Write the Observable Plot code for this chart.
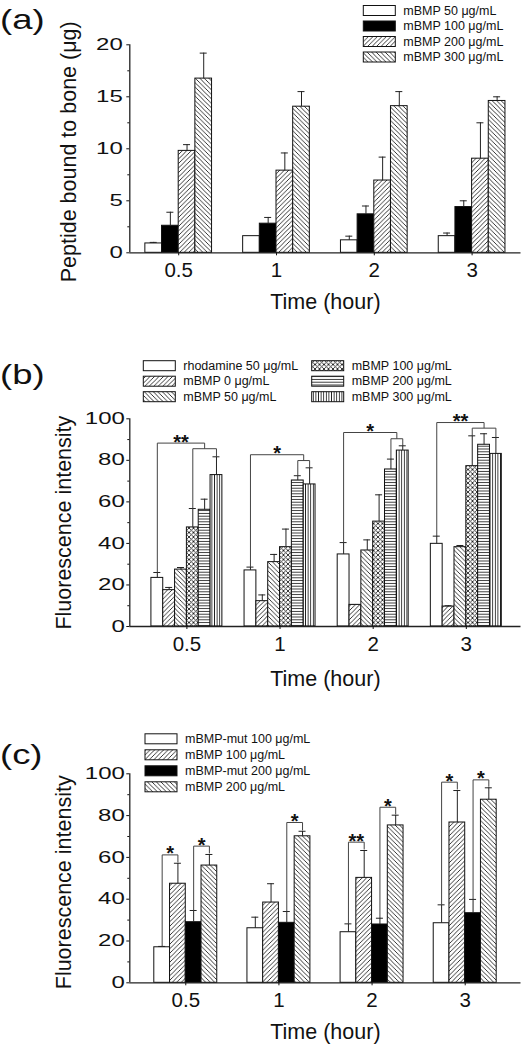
<!DOCTYPE html>
<html><head><meta charset="utf-8">
<script src="https://cdn.jsdelivr.net/npm/d3@7"></script>
<script src="https://cdn.jsdelivr.net/npm/@observablehq/plot@0.6"></script>
<style>
body{margin:0;background:#fff;}
#wrap{position:relative;width:522px;height:1050px;overflow:hidden;background:#fff;}
#wrap > svg{position:absolute;left:0;}
</style></head><body><div id="wrap"></div>
<script>
// ---------- data ----------
const times = ["0.5", "1", "2", "3"];

// (a)
const seriesA = ["mBMP 50 μg/mL", "mBMP 100 μg/mL", "mBMP 200 μg/mL", "mBMP 300 μg/mL"];
const meanA = [
  [0.9, 1.6, 1.2, 1.6],
  [2.6, 2.8, 3.7, 4.4],
  [9.8, 7.9, 6.95, 9.05],
  [16.75, 14.05, 14.1, 14.6]
];
const errA = [
  [0.1, 0, 0.4, 0.3],
  [1.3, 0.6, 0.8, 0.6],
  [0.6, 1.7, 2.25, 3.45],
  [2.45, 1.45, 1.4, 0.4]
];
const ticksA = [0, 5, 10, 15, 20];
const minorA = [2.5, 7.5, 12.5, 17.5];

// (b)
const seriesB = ["rhodamine 50 μg/mL", "mBMP 0 μg/mL", "mBMP 50 μg/mL", "mBMP 100 μg/mL", "mBMP 200 μg/mL", "mBMP 300 μg/mL"];
const meanB = [
  [23.4, 27.0, 34.7, 39.8],
  [17.5, 12.2, 10.4, 9.6],
  [27.4, 31.0, 36.6, 38.2],
  [47.7, 38.2, 50.5, 77.2],
  [56.2, 70.3, 75.6, 87.5],
  [72.9, 68.4, 84.7, 83.1]
];
const errB = [
  [2.6, 1.6, 5.7, 3.7],
  [1.3, 3.0, 0.2, 0.4],
  [1.0, 3.7, 5.1, 0.8],
  [9.1, 8.7, 12.9, 14.6],
  [5.1, 2.3, 5.0, 5.3],
  [8.8, 8.0, 2.3, 7.9]
];
const bracketsB = [
  {time: "0.5", left: "rhodamine 50 μg/mL", from: "mBMP 100 μg/mL", to: "mBMP 300 μg/mL", outer: 88.3, inner: 85.6, mark: "**"},
  {time: "1", left: "rhodamine 50 μg/mL", from: "mBMP 200 μg/mL", to: "mBMP 300 μg/mL", outer: 82.7, inner: 79.9, mark: "*"},
  {time: "2", left: "rhodamine 50 μg/mL", from: "mBMP 200 μg/mL", to: "mBMP 300 μg/mL", outer: 93.4, inner: 90.4, mark: "*"},
  {time: "3", left: "rhodamine 50 μg/mL", from: "mBMP 100 μg/mL", to: "mBMP 300 μg/mL", outer: 98.2, inner: 95.5, mark: "**"}
];
const ticksBC = [0, 20, 40, 60, 80, 100];
const minorBC = [10, 30, 50, 70, 90];

// (c)
const seriesC = ["mBMP-mut 100 μg/mL", "mBMP 100 μg/mL", "mBMP-mut 200 μg/mL", "mBMP 200 μg/mL"];
const meanC = [
  [17.0, 26.1, 24.2, 28.5],
  [47.4, 38.4, 50.2, 76.7],
  [29.0, 28.7, 27.9, 33.3],
  [56.1, 70.1, 75.3, 87.6]
];
const errC = [
  [0.4, 5.3, 4.0, 8.8],
  [9.8, 9.0, 13.1, 15.3],
  [5.6, 5.4, 3.0, 6.6],
  [5.3, 2.4, 4.9, 5.7]
];
const bracketsC = [
  {time: "0.5", from: "mBMP-mut 100 μg/mL", to: "mBMP 100 μg/mL", top: 61.2, mark: "*"},
  {time: "0.5", from: "mBMP-mut 200 μg/mL", to: "mBMP 200 μg/mL", top: 65.4, mark: "*"},
  {time: "1", from: "mBMP-mut 200 μg/mL", to: "mBMP 200 μg/mL", top: 76.7, mark: "*"},
  {time: "2", from: "mBMP-mut 100 μg/mL", to: "mBMP 100 μg/mL", top: 67.3, mark: "**"},
  {time: "2", from: "mBMP-mut 200 μg/mL", to: "mBMP 200 μg/mL", top: 84.0, mark: "*"},
  {time: "3", from: "mBMP-mut 100 μg/mL", to: "mBMP 100 μg/mL", top: 96.0, mark: "*"},
  {time: "3", from: "mBMP-mut 200 μg/mL", to: "mBMP 200 μg/mL", top: 97.1, mark: "*"}
];

// ---------- styles ----------
const FONT = '"Liberation Sans", Arial, Helvetica, sans-serif';
const fillsA = ["white", "black", "url(#pF)", "url(#pB)"];
const fillsB = ["white", "url(#pF)", "url(#pB)", "url(#pX)", "url(#pH)", "url(#pV)"];
const fillsC = ["white", "url(#pF)", "black", "url(#pB)"];

const wrap = document.getElementById("wrap");

function stretchX(el, s) {
  const t = el.getAttribute("transform") || "";
  const x = parseFloat(el.getAttribute("x")) || 0, y = parseFloat(el.getAttribute("y")) || 0;
  el.setAttribute("transform", `${t} translate(${x},${y}) scale(${s},1) translate(${-x},${-y})`);
}

function panel(cfg) {
  const W = 522, mL = 129.3, mR = 1.5;
  const n = cfg.series.length;
  const rows = [];
  cfg.series.forEach((s, si) => times.forEach((t, ti) => {
    const v = cfg.mean[si][ti], e = cfg.err[si][ti];
    rows.push({series: s, time: t, value: v, err: e, top: v + e, pos: ti + (si - (n - 1) / 2) * cfg.barW});
  }));
  const ppu = (W - mL - mR) / (cfg.xDomain[1] - cfg.xDomain[0]);
  const cap = 3.5 / ppu;
  const find = (t, s) => rows.find(r => r.time === t && r.series === s);
  const segs = [], stars = [];
  (cfg.groupBrackets || []).forEach(b => {
    const L = find(b.time, b.left), A = find(b.time, b.from), B = find(b.time, b.to);
    const mid = (A.pos + B.pos) / 2;
    segs.push({x1: L.pos, y1: L.top, x2: L.pos, y2: b.outer});
    segs.push({x1: L.pos, y1: b.outer, x2: mid, y2: b.outer});
    segs.push({x1: mid, y1: b.outer, x2: mid, y2: b.inner});
    segs.push({x1: A.pos, y1: b.inner, x2: B.pos, y2: b.inner});
    segs.push({x1: A.pos, y1: b.inner, x2: A.pos, y2: A.top});
    segs.push({x1: B.pos, y1: b.inner, x2: B.pos, y2: B.top});
    stars.push({x: (L.pos + mid) / 2, y: b.outer, mark: b.mark});
  });
  (cfg.pairBrackets || []).forEach(b => {
    const A = find(b.time, b.from), B = find(b.time, b.to);
    segs.push({x1: A.pos, y1: A.top, x2: A.pos, y2: b.top});
    segs.push({x1: A.pos, y1: b.top, x2: B.pos, y2: b.top});
    segs.push({x1: B.pos, y1: b.top, x2: B.pos, y2: B.top + 0.5});
    stars.push({x: (A.pos + B.pos) / 2, y: b.top, mark: b.mark});
  });
  const withErr = rows.filter(d => d.err > 0);
  const chart = Plot.plot({
    width: W, height: cfg.height,
    marginLeft: mL, marginRight: mR, marginTop: cfg.mT, marginBottom: cfg.mB,
    style: {fontFamily: FONT, color: "#111", background: "transparent", overflow: "visible"},
    x: {domain: cfg.xDomain, axis: null},
    y: {domain: cfg.yDomain, axis: null},
    color: {domain: cfg.series, range: cfg.fills},
    marks: [
      Plot.rectY(rows, {x1: d => d.pos - cfg.barW / 2, x2: d => d.pos + cfg.barW / 2, y1: 0, y2: "value", fill: "series", stroke: "#111", strokeWidth: 1}),
      Plot.ruleX(withErr, {x: "pos", y1: "value", y2: "top", stroke: "#222", strokeWidth: 1}),
      Plot.ruleY(withErr, {y: "top", x1: d => d.pos - cap, x2: d => d.pos + cap, stroke: "#222", strokeWidth: 1}),
      Plot.link(segs, {x1: "x1", y1: "y1", x2: "x2", y2: "y2", stroke: "#444", strokeWidth: 1}),
      Plot.text(stars, {x: "x", y: "y", text: "mark", fontSize: 20, fontWeight: "bold", lineAnchor: "middle", dy: -1, fill: "#111"}),
      Plot.ruleX([cfg.xDomain[0]], {stroke: "#222", strokeWidth: 1.3}),
      Plot.ruleY([0], {stroke: "#222", strokeWidth: 1.3}),
      Plot.axisY({ticks: cfg.ticks, tickSize: 3, tickPadding: cfg.yPad, fontSize: 16, label: null}),
      Plot.axisY({ticks: cfg.minor, tickSize: 2, tickFormat: () => "", label: null}),
      Plot.axisX({ticks: [0, 1, 2, 3], tickFormat: i => times[i], tickSize: 3, tickPadding: 7, fontSize: 20.5, label: null}),
      Plot.text(["Time (hour)"], {text: d => d, frameAnchor: "bottom", textAnchor: "middle", lineAnchor: "top", dy: cfg.xTitleDy, fontSize: 21.5}),
      Plot.text([cfg.yLabel], {text: d => d, frameAnchor: "left", textAnchor: "middle", lineAnchor: "middle", rotate: -90, dx: cfg.yTitleDx, dy: cfg.yTitleDy, fontSize: 21.5})
    ]
  });
  chart.style.top = cfg.top + "px";
  chart.style.position = "absolute";
  chart.querySelectorAll('g[aria-label="y-axis tick label"] text').forEach(el => stretchX(el, 1.5));
  wrap.appendChild(chart);
}

panel({series: seriesA, mean: meanA, err: errA, fills: fillsA, xDomain: [-0.5, 3.5], barW: 0.1705,
  yDomain: [0, 20], ticks: ticksA, minor: minorA, top: 0, height: 330, mT: 44.3, mB: 77.7, yPad: 4,
  yLabel: "Peptide bound to bone (μg)", yTitleDx: -60.6, yTitleDy: 3, xTitleDy: 41});

panel({series: seriesB, mean: meanB, err: errB, fills: fillsB, xDomain: [-0.613, 3.587], barW: 0.127,
  yDomain: [0, 100], ticks: ticksBC, minor: minorBC, top: 330, height: 370, mT: 88.3, mB: 74, yPad: 2,
  yLabel: "Fluorescence intensity", yTitleDx: -66, yTitleDy: 0, xTitleDy: 44, groupBrackets: bracketsB});

panel({series: seriesC, mean: meanC, err: errC, fills: fillsC, xDomain: [-0.601, 3.599], barW: 0.169,
  yDomain: [0, 100], ticks: ticksBC, minor: minorBC, top: 700, height: 350, mT: 73.3, mB: 67.7, yPad: 2,
  yLabel: "Fluorescence intensity", yTitleDx: -66, yTitleDy: 4, xTitleDy: 41, pairBrackets: bracketsC});

// ---------- overlay: patterns, legends, panel labels ----------
const ov = d3.create("svg").attr("width", 522).attr("height", 1050)
  .style("top", "0px").style("pointer-events", "none").style("font-family", FONT);
const defs = ov.append("defs");
function pat(id, w, h, d) {
  const p = defs.append("pattern").attr("id", id).attr("patternUnits", "userSpaceOnUse").attr("width", w).attr("height", h);
  p.append("rect").attr("width", w).attr("height", h).attr("fill", "white");
  p.append("path").attr("d", d).attr("stroke", "#222").attr("stroke-width", 0.9).attr("fill", "none");
}
pat("pF", 4.5, 4.5, "M-1,1 L1,-1 M0,4.5 L4.5,0 M3.5,5.5 L5.5,3.5");
pat("pB", 4.5, 4.5, "M-1,3.5 L1,5.5 M0,0 L4.5,4.5 M3.5,-1 L5.5,1");
pat("pX", 4.5, 4.5, "M-1,1 L1,-1 M0,4.5 L4.5,0 M3.5,5.5 L5.5,3.5 M-1,3.5 L1,5.5 M0,0 L4.5,4.5 M3.5,-1 L5.5,1");
pat("pH", 4, 2.8, "M0,1.4 L4,1.4");
pat("pV", 2.6, 4, "M1.3,0 L1.3,4");

function legend(series, fills, o) {
  const g = ov.append("g");
  series.forEach((s, i) => {
    const col = Math.floor(i / o.rows), row = i % o.rows;
    const x = o.x0 + col * (o.colW || 0), y = o.y0 + row * o.rowH;
    g.append("rect").attr("x", x).attr("y", y).attr("width", 32).attr("height", 10)
      .attr("fill", fills[i]).attr("stroke", "#111").attr("stroke-width", 1);
    g.append("text").attr("x", x + 40).attr("y", y + 5).attr("dominant-baseline", "central")
      .attr("font-size", 12.5).attr("fill", "#111").text(s);
  });
}
legend(seriesA, fillsA, {x0: 363.3, y0: 5.5, rowH: 15.5, rows: 4});
legend(seriesB, fillsB, {x0: 143.3, y0: 360.7, rowH: 15.5, rows: 3, colW: 168.4});
legend(seriesC, fillsC, {x0: 145, y0: 733.8, rowH: 16, rows: 4});

const panelLabels = ["(a)", "(b)", "(c)"];
const labelBaselines = [29.3, 384.3, 764.3];
panelLabels.forEach((t, i) => {
  ov.append("text").attr("transform", `translate(0,${labelBaselines[i]}) scale(1.35,1)`)
    .attr("font-size", 27).attr("fill", "#111").text(t);
});
wrap.appendChild(ov.node());
</script></body></html>
